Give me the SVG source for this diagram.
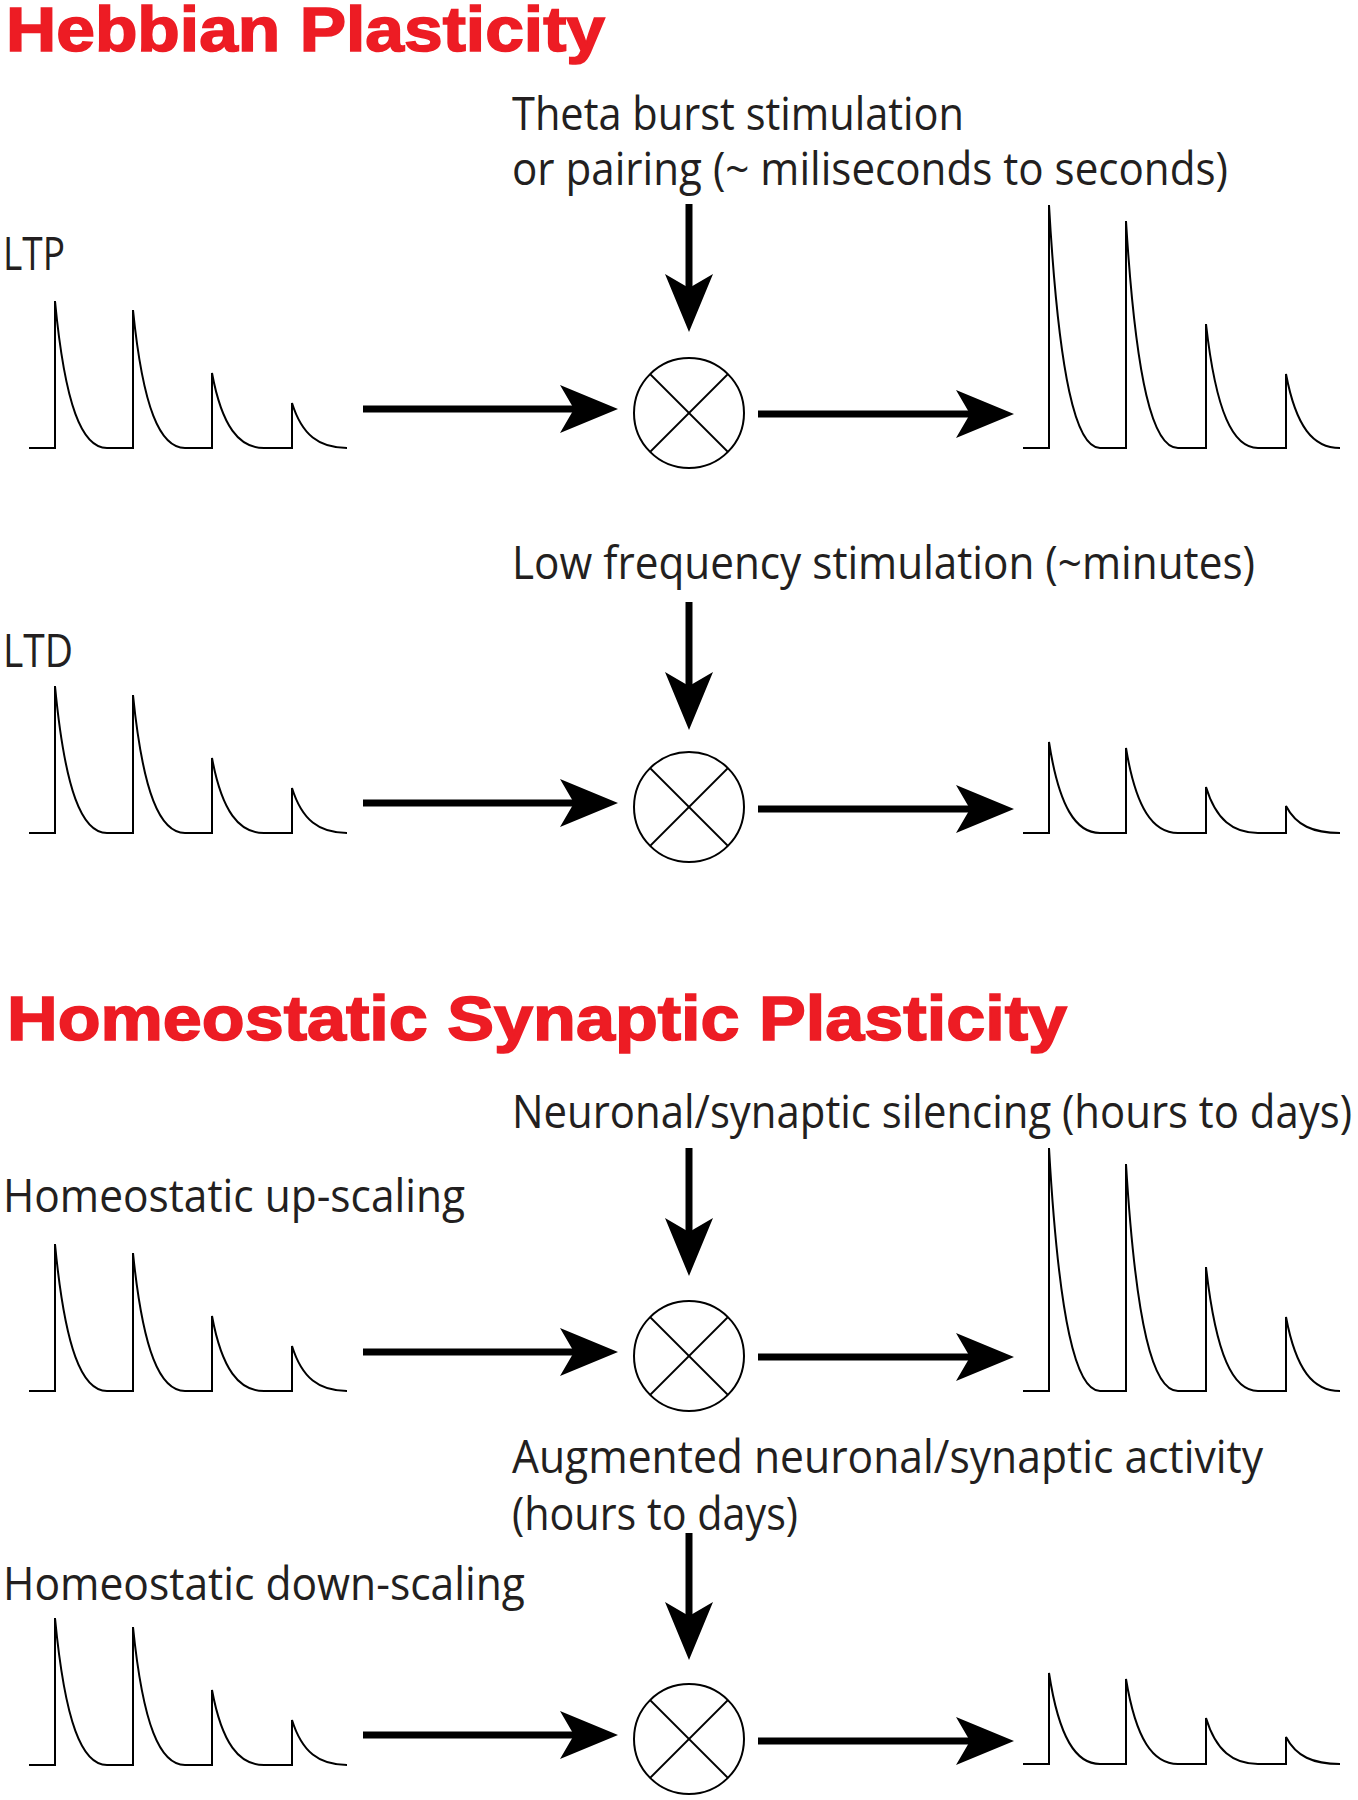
<svg xmlns="http://www.w3.org/2000/svg" xmlns:xlink="http://www.w3.org/1999/xlink" width="1358" height="1800" viewBox="0 0 1358 1800">
<style>
.title{font-family:"Liberation Sans",Arial,sans-serif;font-weight:bold;font-size:63px;fill:#ED1C24;stroke:#ED1C24;stroke-width:1.6px}
.lbl{font-family:"Open Sans","Noto Sans",sans-serif;font-size:45px;fill:#231F20}
.trace{fill:none;stroke:#000;stroke-width:2}
.conn{fill:none;stroke:#000;stroke-width:7}
.mult circle{fill:#fff;stroke:#000;stroke-width:2}
.mult line{stroke:#000;stroke-width:1.8}
</style>
<defs>
<marker id="ah" viewBox="0 0 58 48" refX="18" refY="24" markerWidth="58" markerHeight="48" markerUnits="userSpaceOnUse" orient="auto">
<path d="M0,0 L58,24 L0,48 L14,24 Z" fill="#000"/>
</marker>
<path id="inTrace" class="trace" d="M29,0 h26 v-147 c10,105 27,147 52,147 h26 v-138 c10,98.5 27,138 52,138 h27 v-75 c10,53.6 27,75 52,75 h28 v-45 c10,32.1 27,45 55,45"/>
<path id="bigTrace" class="trace" d="M1023,0 h26 v-243 c10,173.5 27,243 51,243 h26 v-227 c10,162 27,227 52,227 h28 v-124 c10,88.5 27,124 52,124 h28 v-74 c10,52.8 27,74 54,74"/>
<path id="smallTrace" class="trace" d="M1023,0 h26 v-91 c10,65 27,91 51,91 h26 v-85 c10,60.7 27,85 52,85 h28 v-46 c10,32.8 27,46 52,46 h28 v-27 c10,19.3 27,27 54,27"/>
<g id="multSym" class="mult">
<circle cx="0" cy="0" r="55"/>
<line x1="-39" y1="-39" x2="39" y2="39"/>
<line x1="39" y1="-39" x2="-39" y2="39"/>
</g>
</defs>

<g id="titles">
<text id="title-hebbian" class="title" x="6" y="51" textLength="599" lengthAdjust="spacingAndGlyphs">Hebbian Plasticity</text>
<text id="title-homeostatic" class="title" x="7" y="1040" textLength="1060" lengthAdjust="spacingAndGlyphs">Homeostatic Synaptic Plasticity</text>
</g>

<g id="labels">
<text id="lbl-theta" class="lbl" x="512" y="130" textLength="452" lengthAdjust="spacingAndGlyphs">Theta burst stimulation</text>
<text id="lbl-pairing" class="lbl" x="512" y="185" textLength="716" lengthAdjust="spacingAndGlyphs">or pairing (~ miliseconds to seconds)</text>
<text id="lbl-ltp" class="lbl" x="3" y="270" textLength="62" lengthAdjust="spacingAndGlyphs">LTP</text>
<text id="lbl-lfs" class="lbl" x="512" y="579" textLength="743" lengthAdjust="spacingAndGlyphs">Low frequency stimulation (~minutes)</text>
<text id="lbl-ltd" class="lbl" x="3" y="667" textLength="70" lengthAdjust="spacingAndGlyphs">LTD</text>
<text id="lbl-silencing" class="lbl" x="512" y="1128" textLength="840" lengthAdjust="spacingAndGlyphs">Neuronal/synaptic silencing (hours to days)</text>
<text id="lbl-up" class="lbl" x="3" y="1212" textLength="462" lengthAdjust="spacingAndGlyphs">Homeostatic up-scaling</text>
<text id="lbl-augmented" class="lbl" x="512" y="1473" textLength="751" lengthAdjust="spacingAndGlyphs">Augmented neuronal/synaptic activity</text>
<text id="lbl-hours" class="lbl" x="512" y="1530" textLength="286" lengthAdjust="spacingAndGlyphs">(hours to days)</text>
<text id="lbl-down" class="lbl" x="3" y="1600" textLength="522" lengthAdjust="spacingAndGlyphs">Homeostatic down-scaling</text>
</g>

<g id="trace-ltp-in"><use href="#inTrace" y="448"/></g>
<g id="trace-ltp-out"><use href="#bigTrace" y="448"/></g>
<g id="trace-ltd-in"><use href="#inTrace" y="833"/></g>
<g id="trace-ltd-out"><use href="#smallTrace" y="833"/></g>
<g id="trace-up-in"><use href="#inTrace" y="1391"/></g>
<g id="trace-up-out"><use href="#bigTrace" y="1391"/></g>
<g id="trace-down-in"><use href="#inTrace" y="1765"/></g>
<g id="trace-down-out"><use href="#smallTrace" y="1764"/></g>

<g id="mult-ltp"><use href="#multSym" x="689" y="413"/></g>
<g id="mult-ltd"><use href="#multSym" x="689" y="807"/></g>
<g id="mult-up"><use href="#multSym" x="689" y="1356"/></g>
<g id="mult-down"><use href="#multSym" x="689" y="1739"/></g>

<g id="connectors" class="conn" marker-end="url(#ah)">
<line x1="363" y1="409" x2="578" y2="409"/>
<line x1="758" y1="414" x2="974" y2="414"/>
<line x1="689" y1="204" x2="689" y2="292"/>
<line x1="363" y1="803" x2="578" y2="803"/>
<line x1="758" y1="809" x2="974" y2="809"/>
<line x1="689" y1="602" x2="689" y2="690"/>
<line x1="363" y1="1352" x2="578" y2="1352"/>
<line x1="758" y1="1357" x2="974" y2="1357"/>
<line x1="689" y1="1148" x2="689" y2="1236"/>
<line x1="363" y1="1735" x2="578" y2="1735"/>
<line x1="758" y1="1741" x2="974" y2="1741"/>
<line x1="689" y1="1533" x2="689" y2="1620"/>
</g>
</svg>
